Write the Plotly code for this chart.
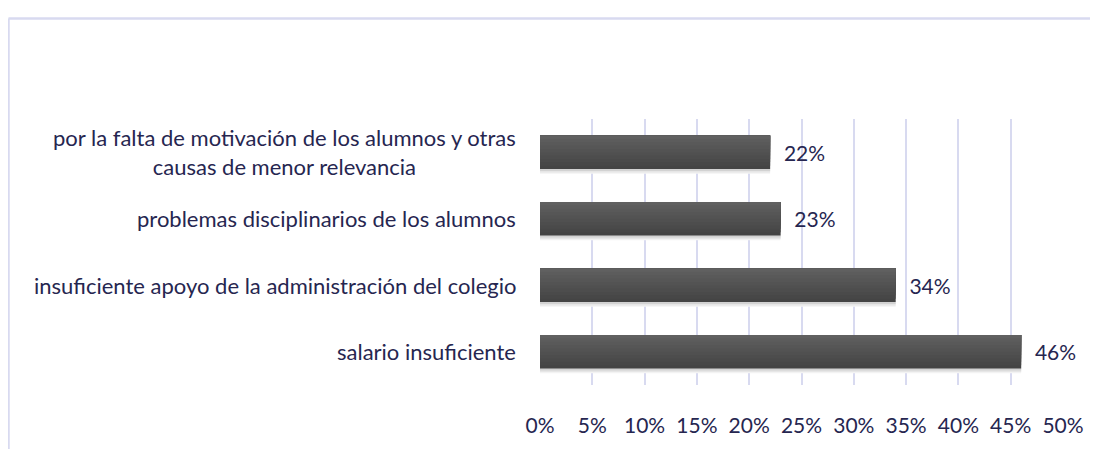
import plotly.graph_objects as go

# categories listed bottom to top
causas = [
    "salario insuficiente",
    "insuficiente apoyo de la administración del colegio",
    "problemas disciplinarios de los alumnos",
    "por la falta de motivación de los alumnos y otras<br>causas de menor relevancia",
]
porcentajes = [0.46, 0.34, 0.23, 0.22]
ticks = [0, 0.05, 0.10, 0.15, 0.20, 0.25, 0.30, 0.35, 0.40, 0.45, 0.50]
tick_text = ["0%", "5%", "10%", "15%", "20%", "25%", "30%", "35%", "40%", "45%", "50%"]

texto = "#262650"
linea = "#d8daf0"
fuente = "Lato"
tam = 21

# page has an 8px body margin, so the figure is 1090x441
W, H = 1090, 441
ml, mr, mt, mb = 532, 35, 111, 52
pw, ph = W - ml - mr, H - mt - mb
px_cat = ph / 4  # pixels per category
ancho = 0.505

fig = go.Figure()

# soft shadow under each bar
for k, col in enumerate(["#f3f3f3", "#e6e6e6", "#d2d2d2"]):
    d = (5 - k * 1.5) / px_cat
    fig.add_trace(go.Bar(
        y=causas, x=porcentajes, orientation="h",
        width=ancho, offset=-ancho / 2 - d,
        marker=dict(color=col, line=dict(width=0)),
        hoverinfo="skip",
    ))

# vertical gradient: each layer covers from its start up to the bar top,
# lighter layers drawn later and higher
n = 10
for i in range(n):
    t = i / (n - 1)
    g = int(0x44 + (0x60 - 0x44) * t)
    start = -ancho / 2 + i * ancho / n
    fig.add_trace(go.Bar(
        y=causas, x=porcentajes, orientation="h",
        width=ancho / 2 - start, offset=start,
        marker=dict(color=f"rgb({g},{g},{g})", line=dict(width=0)),
        hoverinfo="skip",
    ))

# transparent bar carrying the value labels
fig.add_trace(go.Bar(
    y=causas, x=porcentajes, orientation="h",
    width=ancho,
    marker=dict(color="rgba(0,0,0,0)", line=dict(width=0)),
    text=["  " + f"{round(v*100)}%" for v in porcentajes],
    textposition="outside",
    textfont=dict(color=texto, size=tam, family=fuente),
    cliponaxis=False,
))

# y labels as annotations so the two-line label is centred
for c in causas:
    fig.add_annotation(
        x=0, y=c, xref="paper", yref="y", text=c,
        xanchor="right", xshift=-22, align="center", showarrow=False,
        font=dict(color=texto, size=22, family=fuente),
    )

# frame lines (left and top)
top = (H - mb - 6) / ph
left = (0.5 - ml) / pw
fig.add_shape(type="line", xref="paper", yref="paper",
              x0=left, x1=1.2, y0=top, y1=top,
              line=dict(color=linea, width=2.5))
fig.add_shape(type="line", xref="paper", yref="paper",
              x0=left, x1=left, y0=-0.3, y1=top,
              line=dict(color=linea, width=2.5))

fig.update_layout(
    width=W, height=H,
    margin=dict(l=ml, r=mr, t=mt, b=mb),
    paper_bgcolor="white", plot_bgcolor="white",
    showlegend=False, barmode="overlay",
    font=dict(family=fuente, color=texto, size=tam),
    xaxis=dict(range=[0, 0.5], tickvals=ticks, ticktext=tick_text,
               showgrid=True, gridcolor=linea, gridwidth=2,
               zeroline=False, showline=False, ticks="",
               ticklabelstandoff=26,
               tickfont=dict(size=tam, color=texto, family=fuente)),
    yaxis=dict(showticklabels=False, showgrid=False, zeroline=False,
               showline=False, ticks="", range=[-0.5, 3.5]),
)

fig.write_html("out.html", config={"displayModeBar": False})
